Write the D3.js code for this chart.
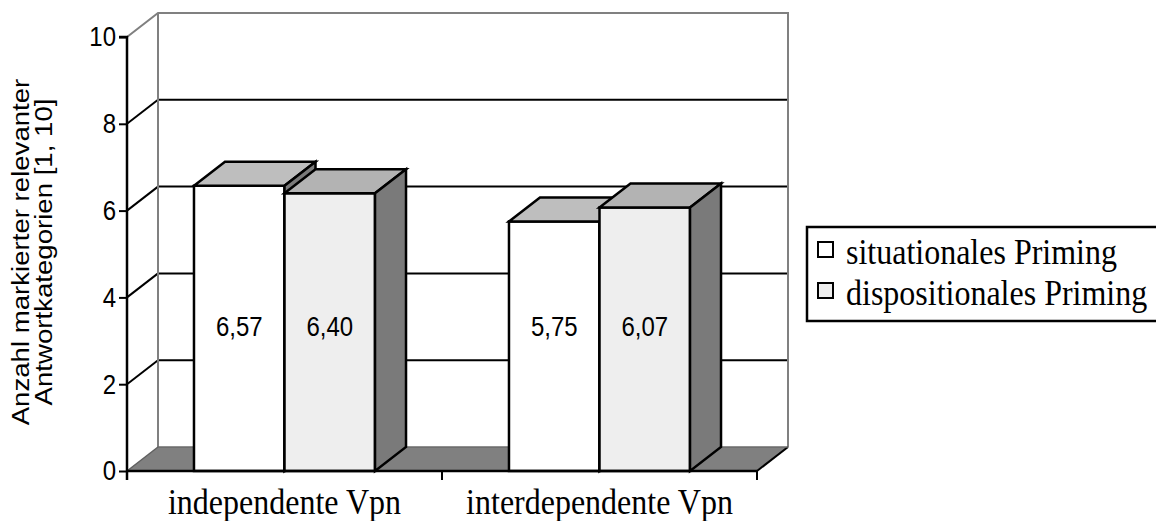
<!DOCTYPE html>
<html>
<head>
<meta charset="utf-8">
<script src="https://cdnjs.cloudflare.com/ajax/libs/d3/7.8.5/d3.min.js"></script>
<style>
  html, body { margin: 0; padding: 0; background: #ffffff; }
  svg { display: block; }
</style>
</head>
<body>
<svg id="chart" width="1156" height="521"></svg>
<script>
// ---- data ----
const categories = ["independente Vpn", "interdependente Vpn"];
const seriesNames = ["situationales Priming", "dispositionales Priming"];
const situationalValues = [6.57, 5.75];
const dispositionalValues = [6.40, 6.07];
const yTickValues = [0, 2, 4, 6, 8, 10];
const gridValues = [2, 4, 6, 8];
const yTitleLines = ["Anzahl markierter relevanter", "Antwortkategorien [1, 10]"];

// ---- layout ----
const svg = d3.select("#chart");
const X0 = 127, X1 = 757;     // front plot extent
const Y0 = 471, Y10 = 37;     // front y of 0 and 10
const DX = 31, DY = -24;      // depth offset (back = front + offset)
const SY = 1.15;              // vertical stretch of the text

const seriesValues = [situationalValues, dispositionalValues];
const frontFill = ["#ffffff", "#eeeeee"];
const topFill = ["#bebebe", "#b3b3b3"];
const sideFill = "#7a7a7a";
const wallGray = "#808080";
const sans = "Liberation Sans, Arial, sans-serif";
const serif = "Liberation Serif, Times New Roman, serif";

const y = d3.scaleLinear().domain([0, 10]).range([Y0, Y10]);
const x0 = d3.scaleBand().domain(categories).range([X0, X1]).padding(0);
const x1 = d3.scaleBand().domain(seriesNames).range([0, x0.bandwidth()]).paddingInner(0).paddingOuter(0.74);

const locale = d3.formatLocale({ decimal: ",", thousands: ".", grouping: [3], currency: ["", "€"] });
const fmt = locale.format(".2f");

const pts = a => a.map(p => p.join(",")).join(" ");

// ---- back wall ----
svg.append("rect")
  .attr("x", X0 + DX).attr("y", Y10 + DY)
  .attr("width", X1 - X0).attr("height", Y0 - Y10)
  .attr("fill", "#ffffff");
svg.append("polygon")
  .attr("points", pts([[X0, Y10], [X0 + DX, Y10 + DY], [X0 + DX, Y0 + DY], [X0, Y0]]))
  .attr("fill", "#ffffff");

// gridlines (back wall + side wall)
const grid = svg.append("g").attr("stroke", "#000").attr("stroke-width", 2).attr("fill", "none");
grid.selectAll("line.back").data(gridValues).join("line")
  .attr("class", "back")
  .attr("x1", X0 + DX).attr("x2", X1 + DX)
  .attr("y1", d => y(d) + DY).attr("y2", d => y(d) + DY);
grid.selectAll("line.side").data(gridValues).join("line")
  .attr("class", "side")
  .attr("x1", X0).attr("x2", X0 + DX)
  .attr("y1", d => y(d)).attr("y2", d => y(d) + DY);

// wall borders (gray)
svg.append("polyline")
  .attr("points", pts([[X0, Y10], [X0 + DX, Y10 + DY], [X1 + DX, Y10 + DY], [X1 + DX, Y0 + DY]]))
  .attr("fill", "none").attr("stroke", wallGray).attr("stroke-width", 2);
svg.append("line")
  .attr("x1", X0 + DX).attr("x2", X0 + DX)
  .attr("y1", Y10 + DY).attr("y2", Y0 + DY)
  .attr("stroke", wallGray).attr("stroke-width", 2);

// ---- floor ----
svg.append("polygon")
  .attr("points", pts([[X0, Y0], [X1, Y0], [X1 + DX, Y0 + DY], [X0 + DX, Y0 + DY]]))
  .attr("fill", "#808080").attr("stroke", "none");
svg.append("line")
  .attr("x1", X0).attr("y1", Y0).attr("x2", X0 + DX).attr("y2", Y0 + DY)
  .attr("stroke", "#606060").attr("stroke-width", 1.5);
svg.append("line")
  .attr("x1", X1).attr("y1", Y0).attr("x2", X1 + DX).attr("y2", Y0 + DY)
  .attr("stroke", "#000").attr("stroke-width", 2);
svg.append("line")
  .attr("x1", X0 + DX).attr("y1", Y0 + DY).attr("x2", X1 + DX).attr("y2", Y0 + DY)
  .attr("stroke", "#6a6a6a").attr("stroke-width", 1.5);

// ---- bars ----
const bars = [];
categories.forEach((c, ci) => {
  seriesNames.forEach((s, si) => {
    bars.push({ cat: c, ser: s, si, v: seriesValues[si][ci] });
  });
});
const barG = svg.append("g").attr("stroke", "#000").attr("stroke-width", 2.5).attr("stroke-linejoin", "miter");
bars.forEach(b => {
  const xl = x0(b.cat) + x1(b.ser);
  const xr = xl + x1.bandwidth();
  const yt = y(b.v);
  const yb = y(0);
  const g = barG.append("g");
  g.append("polygon")
    .attr("points", pts([[xl, yb], [xl, yt], [xr, yt], [xr, yb]]))
    .attr("fill", frontFill[b.si]);
  g.append("polygon")
    .attr("points", pts([[xl, yt], [xl + DX, yt + DY], [xr + DX, yt + DY], [xr, yt]]))
    .attr("fill", topFill[b.si]);
  g.append("polygon")
    .attr("points", pts([[xr, yt], [xr + DX, yt + DY], [xr + DX, yb + DY], [xr, yb]]))
    .attr("fill", sideFill);
});

// value labels
svg.append("g").selectAll("text").data(bars).join("text")
  .attr("transform", d => `translate(${x0(d.cat) + x1(d.ser) + x1.bandwidth() / 2},336) scale(1,${SY})`)
  .attr("text-anchor", "middle")
  .attr("font-family", sans)
  .attr("font-size", 24)
  .attr("fill", "#000")
  .text(d => fmt(d.v));

// ---- y axis ----
const yAxis = d3.axisLeft(y).tickValues(yTickValues).tickSize(8).tickPadding(3).tickFormat(d3.format("d"));
const yg = svg.append("g").attr("transform", `translate(${X0},0)`).call(yAxis);
yg.select(".domain").attr("stroke", "#000").attr("stroke-width", 2.5).attr("d", `M-8,${Y10}H0V${Y0 + 9}`);
yg.selectAll(".tick line").attr("stroke", "#000").attr("stroke-width", 2);
yg.selectAll(".tick text")
  .attr("font-family", sans)
  .attr("font-size", 24).attr("fill", "#000")
  .attr("transform", `scale(1,${SY})`);

// ---- x axis ----
svg.append("line")
  .attr("x1", X0).attr("x2", X1).attr("y1", Y0).attr("y2", Y0)
  .attr("stroke", "#000").attr("stroke-width", 2.5);
const edges = categories.map(c => x0(c)).concat([x0(categories[categories.length - 1]) + x0.bandwidth()]);
svg.append("g").selectAll("line").data(edges).join("line")
  .attr("x1", d => d).attr("x2", d => d)
  .attr("y1", Y0).attr("y2", Y0 + 9)
  .attr("stroke", "#000").attr("stroke-width", 2);
svg.append("g").selectAll("text").data(categories).join("text")
  .attr("transform", d => `translate(${x0(d) + x0.bandwidth() / 2},514) scale(1,${SY})`)
  .attr("text-anchor", "middle")
  .attr("font-family", serif)
  .attr("font-size", 32)
  .attr("fill", "#000")
  .text(d => d);

// ---- y title ----
svg.append("g").selectAll("text").data(yTitleLines).join("text")
  .attr("transform", (d, i) => `translate(${29 + i * 23},252) scale(1,${SY}) rotate(-90)`)
  .attr("text-anchor", "middle")
  .attr("font-family", sans)
  .attr("font-size", 24)
  .attr("fill", "#000")
  .text(d => d);

// ---- legend ----
const lg = svg.append("g");
lg.append("rect")
  .attr("x", 807).attr("y", 227).attr("width", 420).attr("height", 94)
  .attr("fill", "#fff").attr("stroke", "#000").attr("stroke-width", 2.5);
const items = lg.selectAll("g.item").data(seriesNames).join("g")
  .attr("class", "item")
  .attr("transform", (d, i) => `translate(818,${242 + i * 41})`);
items.append("rect")
  .attr("width", 15).attr("height", 15)
  .attr("fill", (d, i) => frontFill[i])
  .attr("stroke", "#000").attr("stroke-width", 2);
items.append("text")
  .attr("transform", `translate(28,22) scale(1,${SY})`)
  .attr("font-family", serif)
  .attr("font-size", 32)
  .attr("fill", "#000")
  .text(d => d);
</script>
</body>
</html>
